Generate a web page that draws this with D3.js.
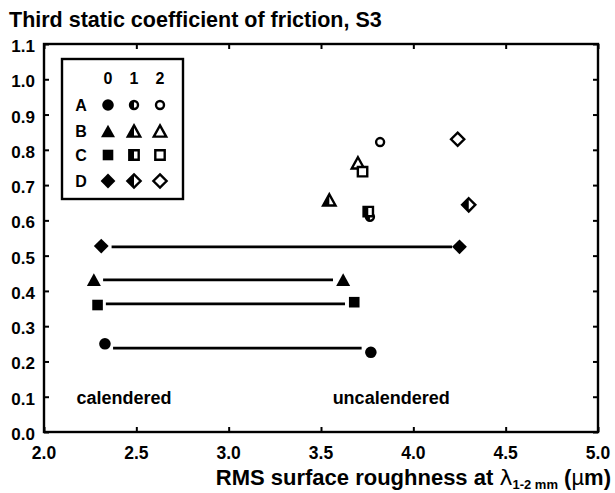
<!DOCTYPE html>
<html>
<head>
<meta charset="utf-8">
<script src="https://cdn.jsdelivr.net/npm/d3@7"></script>
<style>
  body { margin: 0; background: #fff; }
  text { font-family: "Liberation Sans", Arial, sans-serif; font-weight: bold; fill: #000; }
</style>
</head>
<body>
<div id="chart"></div>
<script>
// samples A-D, calendering level 0/1/2
const samples = ['A', 'B', 'C', 'D']
const shapes = ['circle', 'triangle', 'square', 'diamond']
const levels = ['0', '1', '2']

// level 0, calendered
const calX = [2.33, 2.27, 2.29, 2.31]
const calY = [0.25, 0.432, 0.36, 0.527]
// level 0, uncalendered
const uncX = [3.77, 3.62, 3.68, 4.25]
const uncY = [0.226, 0.432, 0.368, 0.525]
// level 1
const lev1X = [3.765, 3.545, 3.756, 4.30]
const lev1Y = [0.61, 0.658, 0.625, 0.644]
// level 2
const lev2X = [3.82, 3.70, 3.725, 4.24]
const lev2Y = [0.822, 0.763, 0.738, 0.83]

// horizontal connectors between calendered and uncalendered
const lineX1 = [2.374, 2.32, 2.335, 2.366]
const lineX2 = [3.72, 3.565, 3.63, 4.21]
const lineY = [0.238, 0.431, 0.363, 0.525]

const xTicks = [2.0, 2.5, 3.0, 3.5, 4.0, 4.5, 5.0]
const yTicks = [0, 0.1, 0.2, 0.3, 0.4, 0.5, 0.6, 0.7, 0.8, 0.9, 1.0, 1.1]

const width = 615, height = 493
const margin = { left: 44, right: 17, top: 44, bottom: 61 }

const svg = d3.select('#chart').append('svg')
  .attr('width', width)
  .attr('height', height)

const x = d3.scaleLinear().domain([2, 5]).range([margin.left, width - margin.right])
const y = d3.scaleLinear().domain([0, 1.1]).range([height - margin.bottom, margin.top])

// symbol path builders, centered on 0,0
function shapePath (shape, half, open) {
  switch (shape) {
    case 'circle': {
      let r = open ? 4 : 5.8
      return half
        ? `M0,${-r}A${r},${r} 0 0 0 0,${r}Z`
        : `M${r},0A${r},${r} 0 1 1 ${-r},0A${r},${r} 0 1 1 ${r},0Z`
    }
    case 'triangle': {
      let w = open ? 6.2 : 7, h = open ? 5.6 : 6.3
      return half
        ? `M0,${-h}L${-w},${h}L0,${h}Z`
        : `M0,${-h}L${w},${h}L${-w},${h}Z`
    }
    case 'square': {
      let s = open ? 4.7 : 5.3
      return half
        ? `M${-s},${-s}H0V${s}H${-s}Z`
        : `M${-s},${-s}H${s}V${s}H${-s}Z`
    }
    case 'diamond': {
      let r = open ? 6.6 : 7.4
      return half
        ? `M0,${-r}L${-r},0L0,${r}Z`
        : `M0,${-r}L${r},0L0,${r}L${-r},0Z`
    }
  }
}

function drawMarker (g, shape, level, px, py) {
  let m = g.append('g').attr('transform', `translate(${px},${py})`)
  if (level === 0) {
    m.append('path').attr('d', shapePath(shape)).attr('fill', '#000')
  } else {
    m.append('path').attr('d', shapePath(shape, false, true)).attr('fill', '#fff')
      .attr('stroke', '#000').attr('stroke-width', 2.4).attr('stroke-linejoin', 'miter')
    if (level === 1) {
      m.append('path').attr('d', shapePath(shape, true, true)).attr('fill', '#000')
    }
  }
}

// frame
svg.append('rect')
  .attr('x', x(2)).attr('y', y(1.1))
  .attr('width', x(5) - x(2)).attr('height', y(0) - y(1.1))
  .attr('fill', 'none').attr('stroke', '#000').attr('stroke-width', 2.4)

// axes with inward ticks
const tickStyle = g => {
  g.select('.domain').remove()
  g.selectAll('line').attr('stroke-width', 2)
}

svg.append('g')
  .attr('transform', `translate(0,${y(0)})`)
  .call(d3.axisTop(x).tickValues(xTicks).tickSize(5).tickFormat(''))
  .call(tickStyle)

svg.append('g')
  .attr('transform', `translate(0,${y(1.1)})`)
  .call(d3.axisBottom(x).tickValues(xTicks).tickSize(5).tickFormat(''))
  .call(tickStyle)

svg.append('g')
  .attr('transform', `translate(${x(2)},0)`)
  .call(d3.axisRight(y).tickValues(yTicks).tickSize(5).tickFormat(''))
  .call(tickStyle)

svg.append('g')
  .attr('transform', `translate(${x(5)},0)`)
  .call(d3.axisLeft(y).tickValues(yTicks).tickSize(5).tickFormat(''))
  .call(tickStyle)

// tick labels
svg.append('g').selectAll('text')
  .data(xTicks).join('text')
  .attr('x', d => x(d))
  .attr('y', y(0) + 27)
  .attr('text-anchor', 'middle')
  .attr('font-size', 17.5)
  .text(d => d.toFixed(1))

svg.append('g').selectAll('text')
  .data(yTicks).join('text')
  .attr('x', x(2) - 9)
  .attr('y', d => y(d) + 8)
  .attr('text-anchor', 'end')
  .attr('font-size', 17)
  .text(d => d.toFixed(1))

// titles
svg.append('text')
  .attr('x', 9).attr('y', 27)
  .attr('font-size', 21.5)
  .text('Third static coefficient of friction, S3')

const xt = svg.append('text')
  .attr('x', 611).attr('y', 485)
  .attr('text-anchor', 'end')
  .attr('font-size', 22)
xt.append('tspan').text('RMS surface roughness at ')
xt.append('tspan').style('font-family', '"DejaVu Sans", sans-serif').style('font-weight', 'normal').text('λ')
xt.append('tspan').attr('font-size', 13).attr('dy', 4).text('1-2 mm')
xt.append('tspan').attr('dy', -4).text(' (')
xt.append('tspan').style('font-weight', 'normal').text('µ')
xt.append('tspan').text('m)')

// annotations
svg.append('text').attr('x', x(2.176)).attr('y', y(0.1) + 7)
  .attr('font-size', 18).text('calendered')
svg.append('text').attr('x', x(3.563)).attr('y', y(0.1) + 7)
  .attr('font-size', 18).text('uncalendered')

// connectors
svg.append('g').selectAll('line')
  .data(samples).join('line')
  .attr('x1', (d, i) => x(lineX1[i]))
  .attr('x2', (d, i) => x(lineX2[i]))
  .attr('y1', (d, i) => y(lineY[i]))
  .attr('y2', (d, i) => y(lineY[i]))
  .attr('stroke', '#000')
  .attr('stroke-width', 2.8)

// markers
const marks = svg.append('g')
samples.forEach((s, i) => {
  drawMarker(marks, shapes[i], 0, x(calX[i]), y(calY[i]))
  drawMarker(marks, shapes[i], 0, x(uncX[i]), y(uncY[i]))
})
samples.forEach((s, i) => {
  drawMarker(marks, shapes[i], 2, x(lev2X[i]), y(lev2Y[i]))
})
samples.forEach((s, i) => {
  drawMarker(marks, shapes[i], 1, x(lev1X[i]), y(lev1Y[i]))
})

// legend
const legend = svg.append('g')
legend.append('rect')
  .attr('x', 62).attr('y', 59)
  .attr('width', 121).attr('height', 140)
  .attr('fill', '#fff').attr('stroke', '#000').attr('stroke-width', 2.4)

const colX = [108, 134, 160]
const rowY = [105, 131, 155, 181]

legend.selectAll('text.col')
  .data(levels).join('text')
  .attr('class', 'col')
  .attr('x', (d, i) => colX[i])
  .attr('y', 84)
  .attr('text-anchor', 'middle')
  .attr('font-size', 16)
  .text(d => d)

legend.selectAll('text.row')
  .data(samples).join('text')
  .attr('class', 'row')
  .attr('x', 81)
  .attr('y', (d, i) => rowY[i] + 6)
  .attr('text-anchor', 'middle')
  .attr('font-size', 16)
  .text(d => d)

samples.forEach((s, i) => {
  levels.forEach((l, j) => drawMarker(legend, shapes[i], j, colX[j], rowY[i]))
})
</script>
</body>
</html>
